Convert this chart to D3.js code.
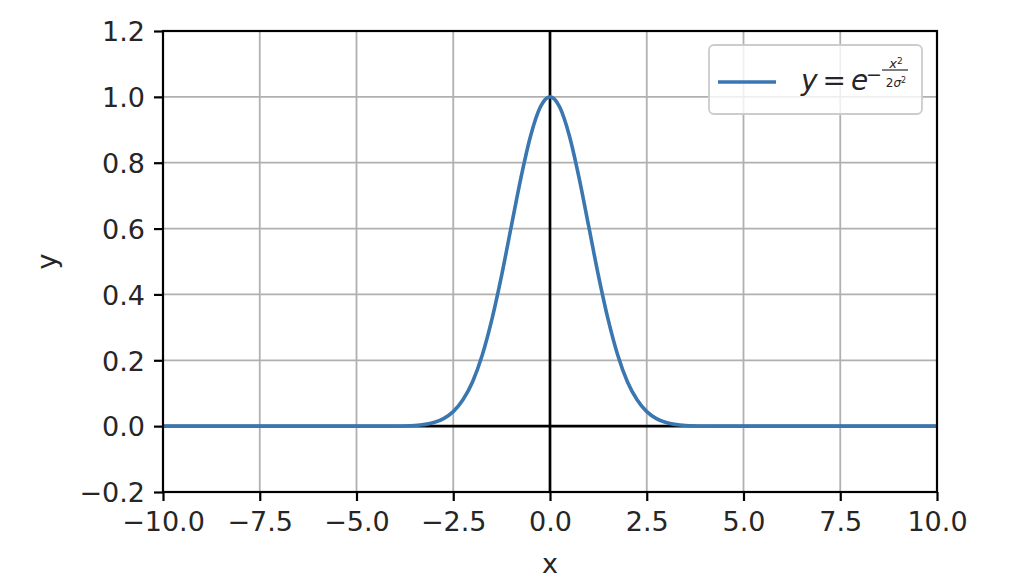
<!DOCTYPE html>
<html>
<head>
<meta charset="utf-8">
<script src="https://cdn.jsdelivr.net/npm/d3@7"></script>
<style>
	body { margin: 0; background: #fff; }
	svg text { font-family: "DejaVu Sans", sans-serif; fill: #262626; }
</style>
</head>
<body>
<div id="chart"></div>
<script>
	// values
	var xValues = [ -10, -8, -6, -4.5, -4, -3.5, -3, -2.75, -2.5, -2.25, -2, -1.75, -1.5, -1.25, -1, -0.75, -0.5, -0.25, 0,
			0.25, 0.5, 0.75, 1, 1.25, 1.5, 1.75, 2, 2.25, 2.5, 2.75, 3, 3.5, 4, 4.5, 6, 8, 10 ];
	var yValues = [ 0, 0, 0, 0, 0.0003, 0.002, 0.011, 0.023, 0.044, 0.080, 0.135, 0.216, 0.325, 0.458, 0.607, 0.755, 0.882, 0.969, 1.0,
			0.969, 0.882, 0.755, 0.607, 0.458, 0.325, 0.216, 0.135, 0.080, 0.044, 0.023, 0.011, 0.002, 0.0003, 0, 0, 0, 0 ];
	var xTicks = [ -10, -7.5, -5, -2.5, 0, 2.5, 5, 7.5, 10 ];
	var yTicks = [ -0.2, 0, 0.2, 0.4, 0.6, 0.8, 1.0, 1.2 ];
	var seriesLabel = "y = e^(-x²/2σ²)";

	var WIDTH = 1016, HEIGHT = 584, MARGINS = {
		top : 31,
		right : 79,
		bottom : 92,
		left : 163
	};
	var FONT = 27, LINE_COLOR = "#3a76b0";

	var vis = d3.select("#chart").append("svg").attr("width", WIDTH).attr("height", HEIGHT);

	var xScale = d3.scaleLinear().range([ MARGINS.left, WIDTH - MARGINS.right ]).domain([ -10, 10 ]);
	var yScale = d3.scaleLinear().range([ HEIGHT - MARGINS.bottom, MARGINS.top ]).domain([ -0.2, 1.2 ]);

	// grid
	var grid = vis.append("g").attr("class", "grid");
	grid.selectAll(".gx").data(xTicks).enter().append("line").attr("x1", function(d) {
		return xScale(d);
	}).attr("x2", function(d) {
		return xScale(d);
	}).attr("y1", yScale(-0.2)).attr("y2", yScale(1.2)).attr("stroke", "#b0b0b0").attr("stroke-width", 1.8);
	grid.selectAll(".gy").data(yTicks).enter().append("line").attr("y1", function(d) {
		return yScale(d);
	}).attr("y2", function(d) {
		return yScale(d);
	}).attr("x1", xScale(-10)).attr("x2", xScale(10)).attr("stroke", "#b0b0b0").attr("stroke-width", 1.8);

	// zero lines
	vis.append("line").attr("x1", xScale(-10)).attr("x2", xScale(10)).attr("y1", yScale(0)).attr("y2", yScale(0))
			.attr("stroke", "#000").attr("stroke-width", 2.7);
	vis.append("line").attr("x1", xScale(0)).attr("x2", xScale(0)).attr("y1", yScale(-0.2)).attr("y2", yScale(1.2))
			.attr("stroke", "#000").attr("stroke-width", 2.7);

	// curve
	var lineGen = d3.line().curve(d3.curveMonotoneX).x(function(d) {
		return xScale(d[0]);
	}).y(function(d) {
		return yScale(d[1]);
	});
	vis.append("path").attr("d", lineGen(d3.zip(xValues, yValues))).attr("fill", "none").attr("stroke", LINE_COLOR)
			.attr("stroke-width", 3.6).attr("stroke-linejoin", "round");

	// axes
	var xAxis = d3.axisBottom(xScale).tickValues(xTicks).tickSize(9).tickPadding(9).tickFormat(function(d) {
		return d3.format(".1f")(d).replace("-", "\u2212");
	});
	var yAxis = d3.axisLeft(yScale).tickValues(yTicks).tickSize(9).tickPadding(9).tickFormat(function(d) {
		return d3.format(".1f")(d).replace("-", "\u2212");
	});
	var gX = vis.append("g").attr("transform", "translate(0," + yScale(-0.2) + ")").call(xAxis);
	var gY = vis.append("g").attr("transform", "translate(" + xScale(-10) + ",0)").call(yAxis);
	[ gX, gY ].forEach(function(g) {
		g.select(".domain").remove();
		g.selectAll("line").attr("stroke", "#000").attr("stroke-width", 2.2);
		g.selectAll("text").style("font-size", FONT + "px").attr("fill", "#262626");
	});
	gX.selectAll("text").attr("dy", "0.76em");
	gY.selectAll("text").attr("dy", "0.36em");

	// frame
	vis.append("rect").attr("x", xScale(-10)).attr("y", yScale(1.2)).attr("width", xScale(10) - xScale(-10))
			.attr("height", yScale(-0.2) - yScale(1.2)).attr("fill", "none").attr("stroke", "#000").attr("stroke-width", 2.2);

	// axis labels
	vis.append("text").attr("x", xScale(0)).attr("y", HEIGHT - 11).attr("text-anchor", "middle")
			.style("font-size", FONT + "px").text("x");
	vis.append("text").attr("transform", "translate(56," + yScale(0.5) + ") rotate(-90)").attr("text-anchor", "middle")
			.style("font-size", FONT + "px").text("y");

	// legend
	var legend = vis.append("g").attr("class", "legend").attr("transform", "translate(709,45)");
	legend.append("rect").attr("width", 213).attr("height", 69).attr("rx", 5).attr("fill", "#fff")
			.attr("fill-opacity", 0.8).attr("stroke", "#cccccc").attr("stroke-width", 1.8);
	legend.append("line").attr("x1", 9).attr("x2", 67).attr("y1", 37).attr("y2", 37).attr("stroke", LINE_COLOR)
			.attr("stroke-width", 3.6);
	legend.append("title").text(seriesLabel);
	// math label, drawn piece by piece
	var math = legend.append("g").attr("transform", "translate(92,45)");
	var mainText = math.append("text").style("font-size", "28px");
	mainText.append("tspan").style("font-style", "italic").text("y");
	mainText.append("tspan").attr("dx", 5).text("=");
	mainText.append("tspan").attr("dx", 5).style("font-style", "italic").text("e");
	math.append("text").attr("x", 65).attr("y", -9).style("font-size", "19px").text("\u2212");
	var num = math.append("text").attr("x", 95).attr("y", -22).attr("text-anchor", "middle").style("font-size", "13px");
	num.append("tspan").style("font-style", "italic").text("x");
	num.append("tspan").attr("dy", -4).style("font-size", "9px").text("2");
	math.append("line").attr("x1", 81).attr("x2", 107).attr("y1", -20).attr("y2", -20).attr("stroke", "#262626")
			.attr("stroke-width", 1.2);
	var den = math.append("text").attr("x", 95).attr("y", -3).attr("text-anchor", "middle").style("font-size", "12px");
	den.append("tspan").text("2");
	den.append("tspan").style("font-style", "italic").text("σ");
	den.append("tspan").attr("dy", -4).style("font-size", "8px").text("2");
</script>
</body>
</html>
